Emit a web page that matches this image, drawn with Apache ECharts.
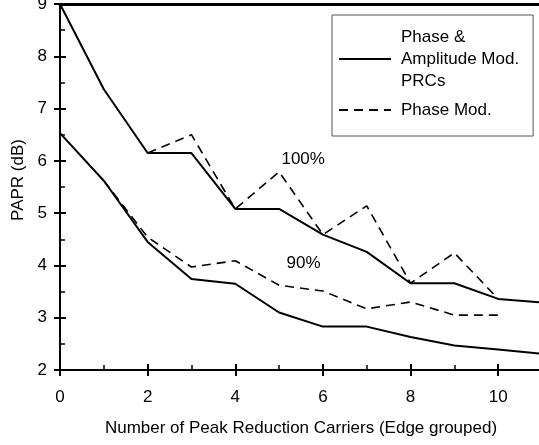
<!DOCTYPE html>
<html lang="en">
<head>
<meta charset="UTF-8">
<title>PAPR</title>
<script src="https://cdn.jsdelivr.net/npm/echarts@6/dist/echarts.min.js"></script>
<style>
html,body{margin:0;padding:0;background:#fff}
#chartBox{width:539px;height:445px}
</style>
</head>
<body>
<div id="chartBox"></div>
<script>
// data
const carriers = [0, 1, 2, 3, 4, 5, 6, 7, 8, 9, 10, 11];
const ampMod100 = [9.0, 7.37, 6.15, 6.15, 5.08, 5.08, 4.59, 4.26, 3.66, 3.66, 3.36, 3.29];
const phaseMod100 = [null, null, 6.15, 6.5, 5.08, 5.79, 4.59, 5.14, 3.66, 4.24, 3.36, null];
const ampMod90 = [6.53, 5.62, 4.45, 3.74, 3.65, 3.1, 2.83, 2.83, 2.63, 2.47, 2.39, 2.31];
const phaseMod90 = [null, 5.62, 4.54, 3.97, 4.09, 3.62, 3.51, 3.17, 3.3, 3.05, 3.05, null];
const nameSolid = 'Phase &\nAmplitude Mod.\nPRCs';
const nameDash = 'Phase Mod.';
const annotations = [['100%', 5.55, 6.02], ['90%', 5.56, 4.05]];

const FONT = 'Liberation Sans, Arial, sans-serif';

function pairs(arr) {
    return carriers.map((x, i) => [x, arr[i]]).filter(p => p[1] !== null);
}

function lineSeries(name, arr, dashed, extra) {
    return Object.assign({
        type: 'line',
        name: name,
        data: pairs(arr),
        symbol: 'none',
        silent: true,
        lineStyle: {color: '#000', width: dashed ? 1.6 : 2, type: dashed ? [9, 6] : 'solid'},
        itemStyle: {color: '#000'}
    }, extra || {});
}

let chartObj = echarts.init(document.getElementById('chartBox'));
let textBase = {color: '#000', fontFamily: FONT, fontSize: 17};

let option = {
    animation: false,
    grid: {left: 60, right: -3, top: 4, bottom: 75, outerBoundsMode: 'none'},
    legend: {
        orient: 'vertical',
        left: 332,
        top: 15,
        data: [nameSolid, nameDash],
        itemWidth: 52,
        itemHeight: 14,
        itemGap: 7,
        padding: [11, 14, 15, 6],
        borderColor: '#555',
        borderWidth: 1,
        selectedMode: false,
        itemStyle: {color: 'rgba(0,0,0,0)', borderWidth: 0, opacity: 0},
        textStyle: Object.assign({lineHeight: 22, padding: [0, 0, 0, 5]}, textBase)
    },
    xAxis: [
        {
            type: 'value', min: 0, max: 11, interval: 2,
            axisLine: {lineStyle: {color: '#000', width: 2}},
            axisTick: {inside: true, length: 6, lineStyle: {color: '#000', width: 2}},
            minorTick: {show: true, splitNumber: 2, length: 5, lineStyle: {color: '#000', width: 1.5}},
            splitLine: {show: false},
            axisLabel: Object.assign({margin: 19, showMaxLabel: false}, textBase),
            name: 'Number of Peak Reduction Carriers (Edge grouped)',
            nameLocation: 'center',
            nameGap: 50,
            nameTextStyle: textBase
        },
        {
            type: 'value', min: 0, max: 11, interval: 2, position: 'bottom',
            axisLine: {show: false},
            axisTick: {inside: false, length: 6, lineStyle: {color: '#000', width: 2}},
            axisLabel: {show: false},
            splitLine: {show: false}
        },
        {
            type: 'value', min: 0, max: 11, position: 'top',
            axisLine: {lineStyle: {color: '#000', width: 3}},
            axisTick: {show: false},
            axisLabel: {show: false},
            splitLine: {show: false}
        }
    ],
    yAxis: [
        {
            type: 'value', min: 2, max: 9, interval: 1,
            axisLine: {show: true, lineStyle: {color: '#000', width: 2}},
            axisTick: {show: true, inside: true, length: 6, lineStyle: {color: '#000', width: 2}},
            minorTick: {show: true, splitNumber: 2, length: 5, lineStyle: {color: '#000', width: 1.5}},
            splitLine: {show: false},
            axisLabel: Object.assign({margin: 13}, textBase),
            name: 'PAPR (dB)',
            nameLocation: 'center',
            nameGap: 31,
            nameTextStyle: Object.assign({padding: [0, 0, 0, 14]}, textBase)
        },
        {
            type: 'value', min: 2, max: 9, interval: 1, position: 'left',
            axisLine: {show: false},
            axisTick: {show: true, inside: false, length: 6, lineStyle: {color: '#000', width: 2}},
            axisLabel: {show: false},
            splitLine: {show: false}
        }
    ],
    series: [
        lineSeries(nameSolid, ampMod100, false, {
            markPoint: {
                symbol: 'circle',
                symbolSize: 0,
                silent: true,
                label: Object.assign({show: true, position: 'inside', formatter: p => p.name}, textBase),
                data: annotations.map(a => ({name: a[0], coord: [a[1], a[2]]}))
            }
        }),
        lineSeries(nameDash, phaseMod100, true),
        lineSeries(nameSolid, ampMod90, false),
        lineSeries(nameDash, phaseMod90, true)
    ]
};

chartObj.setOption(option);
</script>
</body>
</html>
